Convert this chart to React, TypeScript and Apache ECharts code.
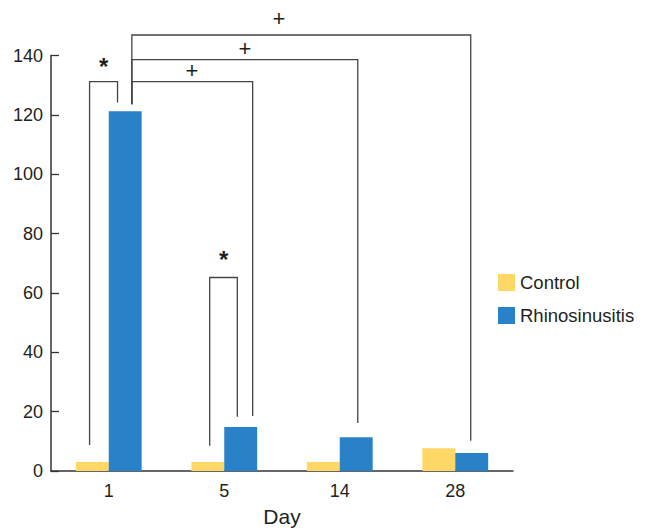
import React, { useEffect, useRef } from "react";
import * as echarts from "echarts";

const days = ["1", "5", "14", "28"];
const controlValues = [3, 3, 3, 7.7];
const rhinoValues = [121.2, 14.8, 11.4, 6.1];
const yMax = 140;
const yInterval = 20;

// significance brackets: [category, offset (fraction of category width), value] for each leg, plus top value
const bracketFrom = [
  [0, -0.166, 8.75],
  [0, 0.2, 123.6],
  [0, 0.2, 123.6],
  [0, 0.2, 123.6],
  [1, -0.126, 8.5],
];
const bracketTo = [
  [0, 0.076, 124.2],
  [1, 0.246, 18.5],
  [2, 0.156, 16.2],
  [3, 0.134, 10.2],
  [1, 0.113, 18.3],
];
const bracketTop = [131.2, 131.2, 138.6, 146.9, 65.2];
// labels: [category, offset, value, text]
const markLabels: [number, number, number, string][] = [
  [0, -0.045, 137.4, "*"],
  [0, 0.72, 135, "+"],
  [1, 0.18, 142.5, "+"],
  [1, 0.474, 152.6, "+"],
  [1, -0.005, 72.2, "*"],
];

const FONT = "'Liberation Sans', Arial, Helvetica, sans-serif";
const TEXT = "#231f20";

export default function App() {
  const ref = useRef<HTMLDivElement>(null);
  useEffect(() => {
    document.body.style.margin = "0";
    const chart = echarts.init(ref.current!, null, { renderer: "svg" });
    chart.setOption({
      animation: false,
      backgroundColor: "#ffffff",
      textStyle: { fontFamily: FONT, color: TEXT },
      legend: {
        orient: "vertical",
        left: 498,
        top: 273,
        padding: 0,
        itemWidth: 17,
        itemHeight: 17,
        itemGap: 14,
        icon: "rect",
        textStyle: { fontFamily: FONT, fontSize: 18.5, color: TEXT, padding: [0, 0, 0, 0] },
        data: ["Control", "Rhinosinusitis"],
      },
      grid: {
        left: 51,
        right: 137,
        top: 55.5,
        bottom: 58,
        containLabel: false,
        outerBoundsMode: "none",
      },
      xAxis: {
        type: "category",
        data: days,
        name: "Day",
        nameLocation: "middle",
        nameGap: 35,
        nameTextStyle: { fontFamily: FONT, fontSize: 21, color: TEXT },
        axisLine: { lineStyle: { color: "#333", width: 1.5 } },
        axisTick: { inside: true, length: 8, lineStyle: { color: "#333", width: 1.3 } },
        axisLabel: { fontFamily: FONT, fontSize: 18, color: TEXT, margin: 11 },
      },
      yAxis: {
        type: "value",
        min: 0,
        max: yMax,
        interval: yInterval,
        splitLine: { show: false },
        axisLine: { show: true, lineStyle: { color: "#333", width: 1.5 } },
        axisTick: { show: true, inside: true, length: 8, lineStyle: { color: "#333", width: 1.3 } },
        axisLabel: { fontFamily: FONT, fontSize: 18, color: TEXT, margin: 8 },
      },
      series: [
        {
          name: "Control",
          type: "bar",
          data: controlValues,
          barGap: "0%",
          barCategoryGap: "43%",
          itemStyle: { color: "#FFD766" },
        },
        {
          name: "Rhinosinusitis",
          type: "bar",
          data: rhinoValues,
          barGap: "0%",
          barCategoryGap: "43%",
          itemStyle: { color: "#2981C8" },
        },
      ],
    });

    const c0 = chart.convertToPixel({ xAxisIndex: 0 }, 0) as number;
    const c1 = chart.convertToPixel({ xAxisIndex: 0 }, 1) as number;
    const bw = c1 - c0;
    const px = (cat: number, off: number) =>
      (chart.convertToPixel({ xAxisIndex: 0 }, cat) as number) + off * bw;
    const py = (v: number) => chart.convertToPixel({ yAxisIndex: 0 }, v) as number;

    const graphics: any[] = [];
    bracketFrom.forEach((f, i) => {
      const t = bracketTo[i];
      const top = py(bracketTop[i]);
      const x1 = px(f[0], f[1]);
      const x2 = px(t[0], t[1]);
      graphics.push({
        type: "polyline",
        silent: true,
        shape: {
          points: [
            [x1, py(f[2])],
            [x1, top],
            [x2, top],
            [x2, py(t[2])],
          ],
        },
        style: { stroke: "#444", lineWidth: 1.3, fill: null },
      });
    });
    markLabels.forEach(([cat, off, v, txt]) => {
      const isStar = txt === "*";
      graphics.push({
        type: "text",
        silent: true,
        x: px(cat, off),
        y: py(v) + (isStar ? 3 : 0),
        style: {
          text: txt,
          fontFamily: FONT,
          fontSize: isStar ? 24 : 22,
          fontWeight: isStar ? "bold" : "normal",
          fill: TEXT,
          align: "center",
          verticalAlign: "middle",
        },
      });
    });
    chart.setOption({ graphic: graphics });

    return () => chart.dispose();
  }, []);
  return (
    <div
      ref={ref}
      style={{ position: "absolute", left: 0, top: 0, width: 650, height: 529 }}
    />
  );
}
